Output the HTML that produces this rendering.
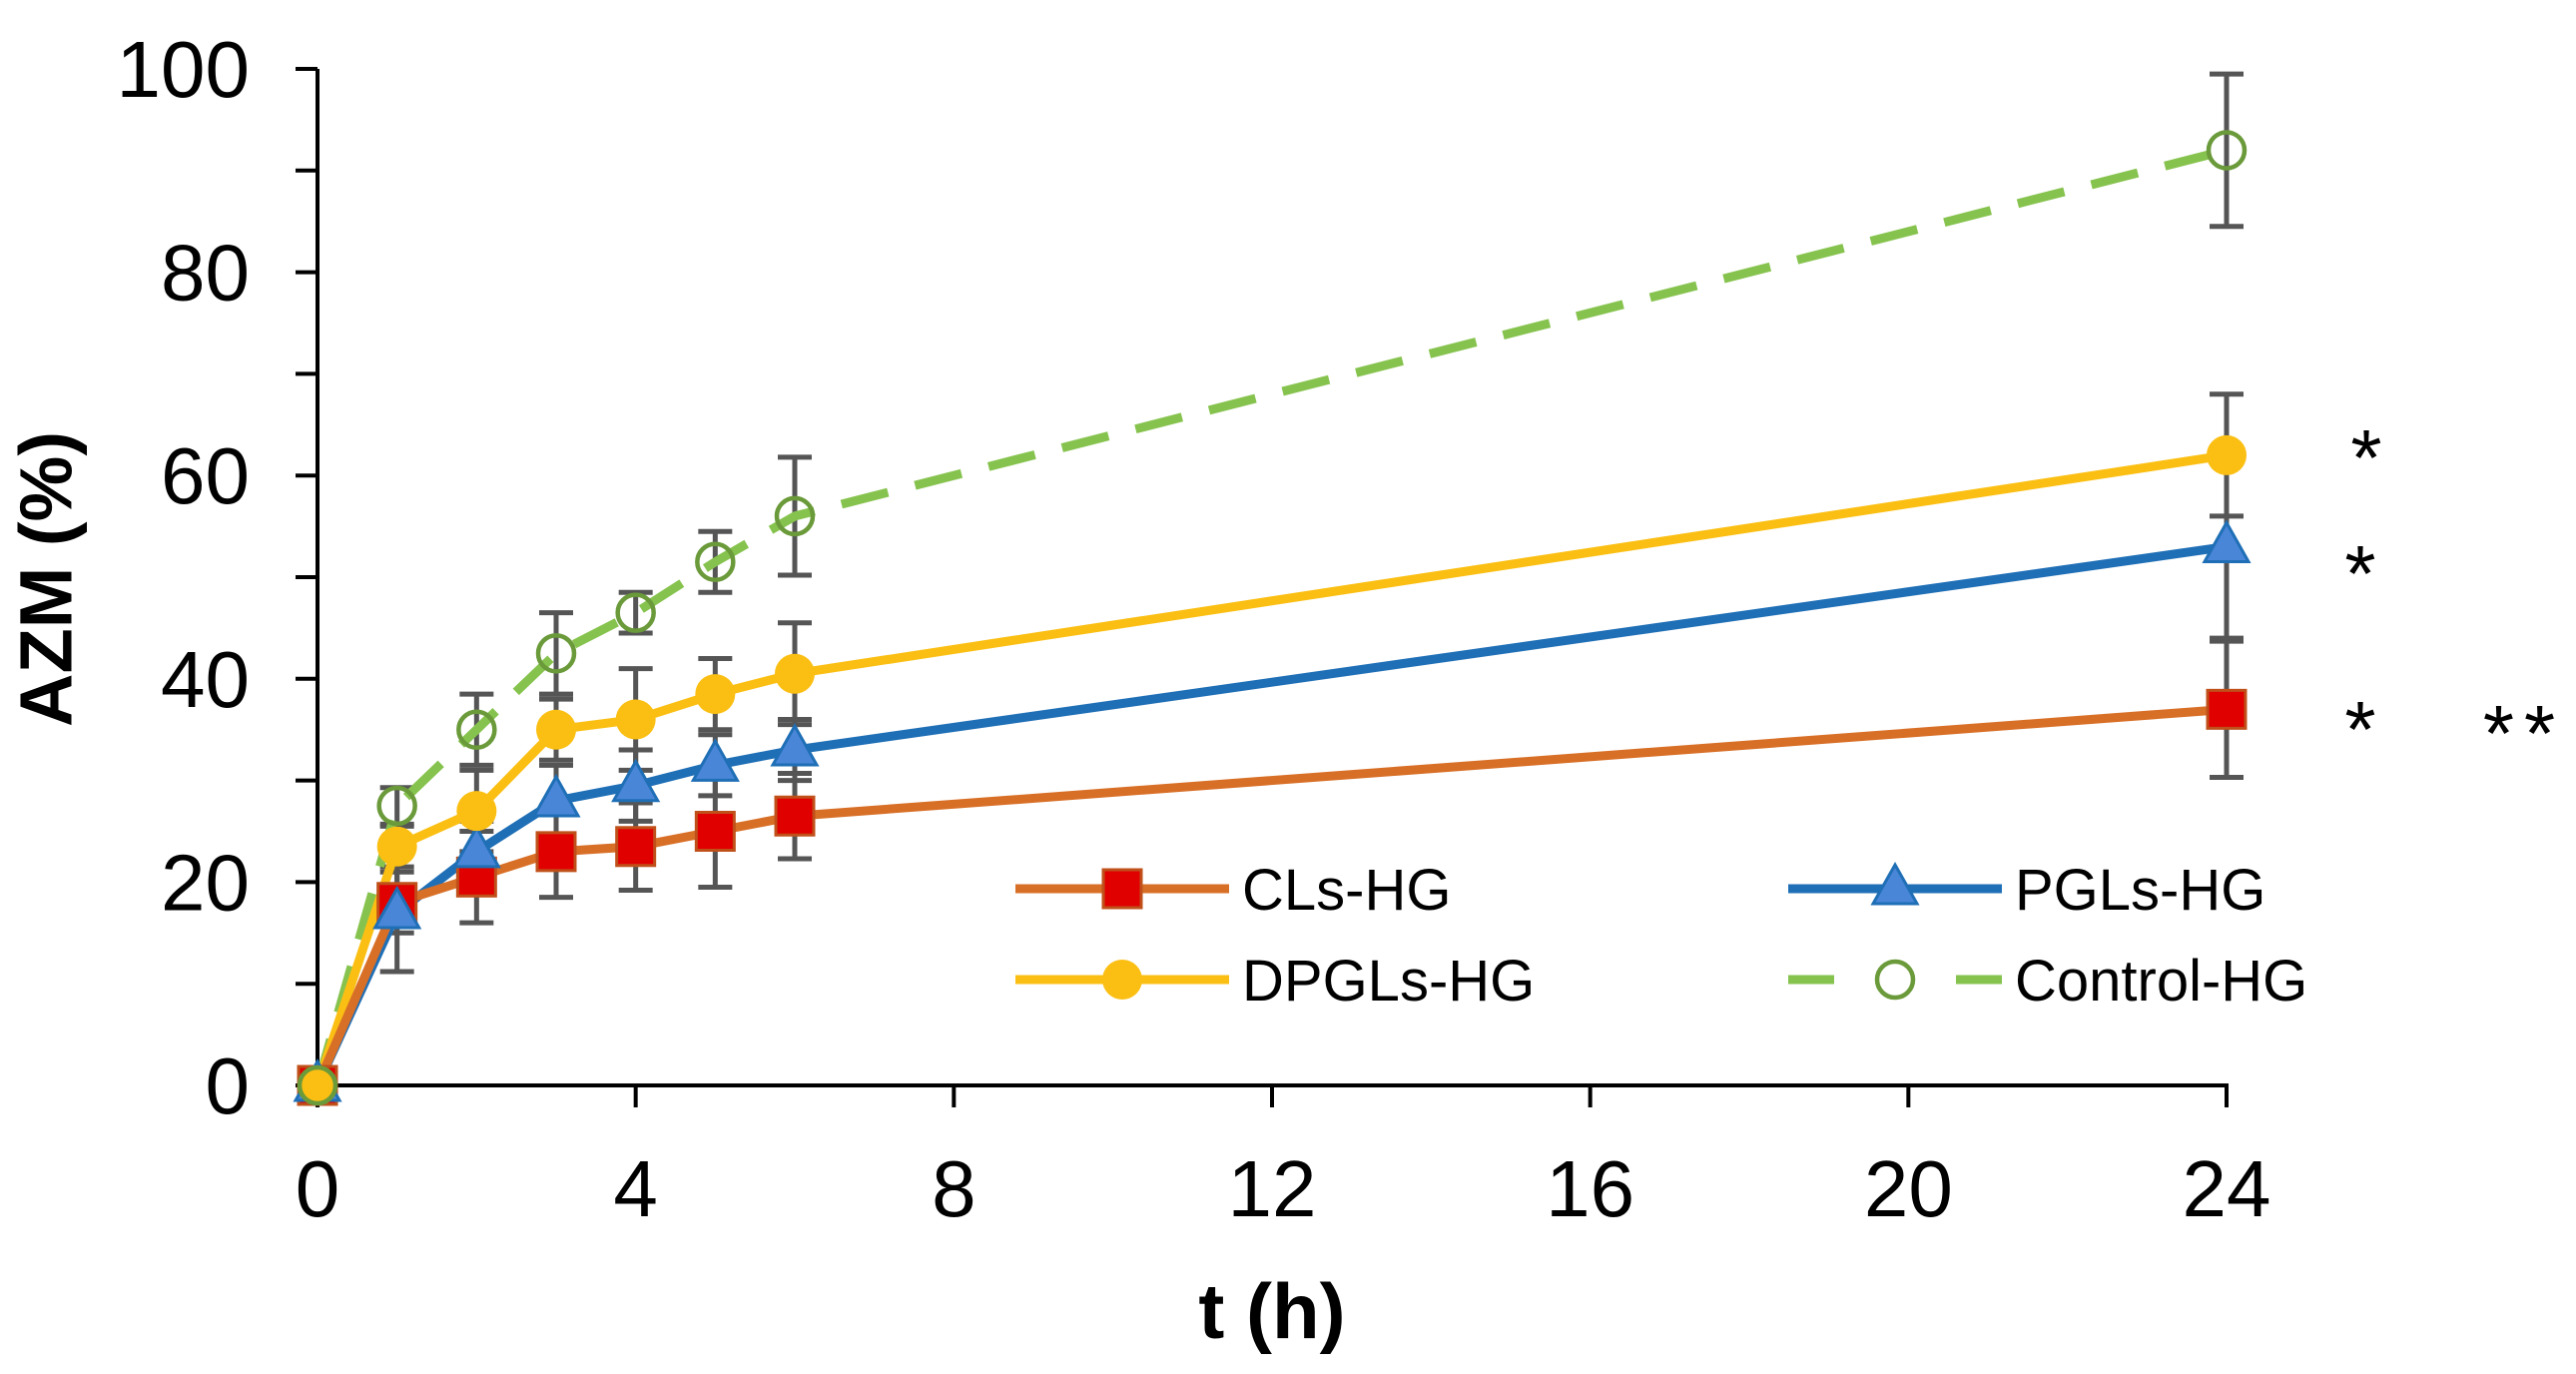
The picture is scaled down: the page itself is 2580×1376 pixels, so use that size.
<!DOCTYPE html>
<html><head><meta charset="utf-8"><style>
html,body{margin:0;padding:0;background:#fff;}
svg{display:block;font-family:"Liberation Sans",sans-serif;}
</style></head><body>
<svg id="chart" width="2580" height="1376" viewBox="0 0 2580 1376" xmlns="http://www.w3.org/2000/svg">
<g id="axes"></g>
<g id="errs"></g>
<g id="series"></g>
<g id="legend"></g>
<text x="52" y="580" transform="rotate(-90 52 580)" text-anchor="middle" dominant-baseline="middle" font-size="74" font-weight="bold">AZM (%)</text>
<text x="1274" y="1340" text-anchor="middle" font-size="78" font-weight="bold">t (h)</text>
<text x="2370" y="486" text-anchor="middle" font-size="80">*</text>
<text x="2364" y="602" text-anchor="middle" font-size="80">*</text>
<text x="2364" y="758" text-anchor="middle" font-size="80">*</text>
<text x="2528" y="762" text-anchor="middle" font-size="80" letter-spacing="10">**</text>
</svg>
<script>
const times = [0,1,2,3,4,5,6,24];
const clsVals = [0,18,20.5,23,23.5,25,26.5,37];
const clsErr = [0,3,4.5,4.5,4.3,5.5,4.2,6.7];
const pglsVals = [0,17,23,28,29.5,31.5,33,53];
const pglsErr = [0,5.8,3,3.5,3.5,3,3,9];
const dpglsVals = [0,23.5,27,35,36,38.5,40.5,62];
const dpglsErr = [0,2,4,3,5,3.5,5,6];
const ctrlVals = [0,27.5,35,42.5,46.5,51.5,56,92];
const ctrlErr = [0,1.8,3.5,4,2,3,5.8,7.5];
const yTicks = [0,20,40,60,80,100];
const xTicks = [0,4,8,12,16,20,24];

const NS="http://www.w3.org/2000/svg";
const X0=318,X1=2230,Y0=1087,Y1=69;
const sx=t=>X0+(X1-X0)*t/24;
const sy=v=>Y0-(Y0-Y1)*v/100;
function mk(tag,attrs,parent){const e=document.createElementNS(NS,tag);for(const k in attrs)e.setAttribute(k,attrs[k]);parent.appendChild(e);return e;}
const axes=document.getElementById('axes');
let e;
e=mk('line',{x1:X0,y1:Y1,x2:X0,y2:Y0,stroke:'#000','stroke-width':4},axes);


e=mk('line',{x1:X0,y1:Y0,x2:X1+2,y2:Y0,stroke:'#000','stroke-width':4},axes);


for(let v=0;v<=100;v+=10){
  e=mk('line',{x1:X0-22,y1:sy(v),x2:X0,y2:sy(v),stroke:'#000','stroke-width':4},axes);
  
  
}
yTicks.forEach(v=>{
  e=mk('text',{x:X0-68,y:sy(v)+28,'text-anchor':'end','font-size':80},axes);
  e.textContent=v;
  
  
});
xTicks.forEach(t=>{
  e=mk('line',{x1:sx(t),y1:Y0,x2:sx(t),y2:Y0+22,stroke:'#000','stroke-width':4},axes);
  
  
  e=mk('text',{x:sx(t),y:1218,'text-anchor':'middle','font-size':80},axes);
  e.textContent=t;
  
  
});
const errs=document.getElementById('errs');
const ser=document.getElementById('series');
const defs=[
 {n:'cls',v:clsVals,er:clsErr,c:'#D86F27',m:'square',dash:null},
 {n:'pgls',v:pglsVals,er:pglsErr,c:'#1F6FB6',m:'tri',dash:null},
 {n:'dpgls',v:dpglsVals,er:dpglsErr,c:'#FBBF13',m:'circle',dash:null},
 {n:'control',v:ctrlVals,er:ctrlErr,c:'#86C34E',m:'ocircle',dash:'48 28'}
];
defs.forEach(d=>{
  times.forEach((t,i)=>{
    if(!d.er[i])return;
    const x=sx(t),a=sy(d.v[i]+d.er[i]),b=sy(d.v[i]-d.er[i]);
    e=mk('path',{d:`M${x},${a}V${b}M${x-17},${a}H${x+17}M${x-17},${b}H${x+17}`,stroke:'#555','stroke-width':5,fill:'none'},errs);
    
    
  });
});
function marker(m,x,y,c,g,name){
  let el;
  if(m==='square')el=mk('rect',{x:x-19,y:y-19,width:38,height:38,fill:'#E00000',stroke:'#C0501A','stroke-width':3},g);
  else if(m==='tri')el=mk('path',{d:`M${x},${y-24}L${x+22},${y+15}L${x-22},${y+15}Z`,fill:'#4A86D8',stroke:'#1F6FB6','stroke-width':3},g);
  else if(m==='circle')el=mk('circle',{cx:x,cy:y,r:20,fill:'#FBBF13'},g);
  else el=mk('circle',{cx:x,cy:y,r:18,fill:'none',stroke:'#6A9A3A','stroke-width':4.5},g);
  
  
}
defs.slice().reverse().forEach(d=>{
  const pts=times.map((t,i)=>sx(t)+','+sy(d.v[i])).join(' ');
  const a={points:pts,fill:'none',stroke:d.c,'stroke-width':9,'stroke-linejoin':'round'};
  if(d.dash){a['stroke-dasharray']=d.dash;}
  e=mk('polyline',a,ser);
  
  
});
defs.forEach(d=>{
  times.forEach((t,i)=>marker(d.m,sx(t),sy(d.v[i]),d.c,ser,d.n+'-point'));
});
const lg=document.getElementById('legend');
const leg=[
 {d:defs[0],x:1017,y:890,tx:1244,label:'CLs-HG'},
 {d:defs[1],x:1791,y:890,tx:2018,label:'PGLs-HG'},
 {d:defs[2],x:1017,y:981,tx:1244,label:'DPGLs-HG'},
 {d:defs[3],x:1791,y:981,tx:2018,label:'Control-HG'}
];
leg.forEach(L=>{
  const a={x1:L.x,y1:L.y,x2:L.x+214,y2:L.y,stroke:L.d.c,'stroke-width':9};
  if(L.d.dash)a['stroke-dasharray']='46 122 46';
  e=mk('line',a,lg);
  
  
  marker(L.d.m,L.x+107,L.y,L.d.c,lg,'legend-marker');
  e=mk('text',{x:L.tx,y:L.y+21,'font-size':58},lg);
  e.textContent=L.label;
  
  
});
</script>
</body></html>
